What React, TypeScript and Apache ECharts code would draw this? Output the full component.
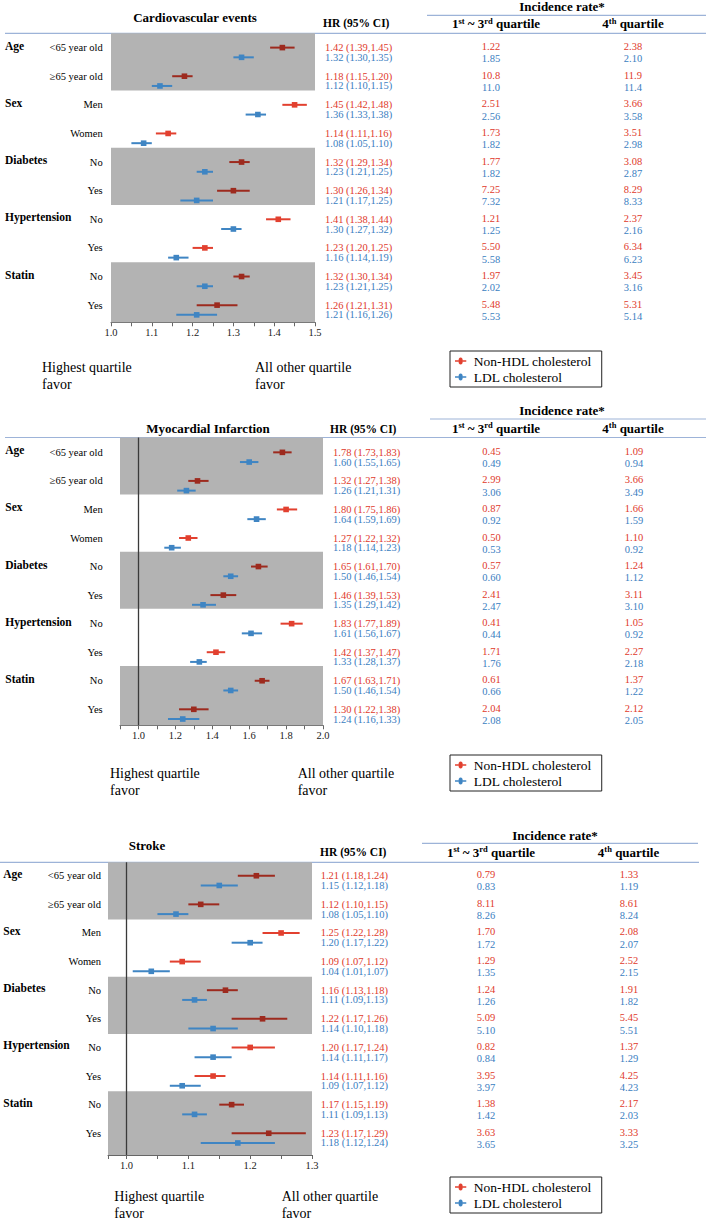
import React, { useEffect, useRef } from "react";
import * as echarts from "echarts";

const FONT = "'Liberation Serif', 'Times New Roman', serif";

// ---- shared row labels ----
const GROUPS = ["Age", "Sex", "Diabetes", "Hypertension", "Statin"];
const SUBGROUPS = ["<65 year old", "≥65 year old", "Men", "Women", "No", "Yes", "No", "Yes", "No", "Yes"];
const SHADED_GROUPS = [0, 2, 4];
const SERIES_NAMES = ["Non-HDL cholesterol", "LDL cholesterol"];

// ---- Cardiovascular events ----
const CVD_NONHDL_HR = [1.42, 1.18, 1.45, 1.14, 1.32, 1.30, 1.41, 1.23, 1.32, 1.26];
const CVD_NONHDL_LO = [1.39, 1.15, 1.42, 1.11, 1.29, 1.26, 1.38, 1.20, 1.30, 1.21];
const CVD_NONHDL_HI = [1.45, 1.20, 1.48, 1.16, 1.34, 1.34, 1.44, 1.25, 1.34, 1.31];
const CVD_LDL_HR = [1.32, 1.12, 1.36, 1.08, 1.23, 1.21, 1.30, 1.16, 1.23, 1.21];
const CVD_LDL_LO = [1.30, 1.10, 1.33, 1.05, 1.21, 1.17, 1.27, 1.14, 1.21, 1.16];
const CVD_LDL_HI = [1.35, 1.15, 1.38, 1.10, 1.25, 1.25, 1.32, 1.19, 1.25, 1.26];
const CVD_NONHDL_Q13 = ["1.22", "10.8", "2.51", "1.73", "1.77", "7.25", "1.21", "5.50", "1.97", "5.48"];
const CVD_NONHDL_Q4 = ["2.38", "11.9", "3.66", "3.51", "3.08", "8.29", "2.37", "6.34", "3.45", "5.31"];
const CVD_LDL_Q13 = ["1.85", "11.0", "2.56", "1.82", "1.82", "7.32", "1.25", "5.58", "2.02", "5.53"];
const CVD_LDL_Q4 = ["2.10", "11.4", "3.58", "2.98", "2.87", "8.33", "2.16", "6.23", "3.16", "5.14"];
const CVD_TICKS = [1.0, 1.05, 1.1, 1.15, 1.2, 1.25, 1.3, 1.35, 1.4, 1.45, 1.5];
const CVD_TICK_LABELS = [1.0, 1.1, 1.2, 1.3, 1.4, 1.5];

// ---- Myocardial Infarction ----
const MI_NONHDL_HR = [1.78, 1.32, 1.80, 1.27, 1.65, 1.46, 1.83, 1.42, 1.67, 1.30];
const MI_NONHDL_LO = [1.73, 1.27, 1.75, 1.22, 1.61, 1.39, 1.77, 1.37, 1.63, 1.22];
const MI_NONHDL_HI = [1.83, 1.38, 1.86, 1.32, 1.70, 1.53, 1.89, 1.47, 1.71, 1.38];
const MI_LDL_HR = [1.60, 1.26, 1.64, 1.18, 1.50, 1.35, 1.61, 1.33, 1.50, 1.24];
const MI_LDL_LO = [1.55, 1.21, 1.59, 1.14, 1.46, 1.29, 1.56, 1.28, 1.46, 1.16];
const MI_LDL_HI = [1.65, 1.31, 1.69, 1.23, 1.54, 1.42, 1.67, 1.37, 1.54, 1.33];
const MI_NONHDL_Q13 = ["0.45", "2.99", "0.87", "0.50", "0.57", "2.41", "0.41", "1.71", "0.61", "2.04"];
const MI_NONHDL_Q4 = ["1.09", "3.66", "1.66", "1.10", "1.24", "3.11", "1.05", "2.27", "1.37", "2.12"];
const MI_LDL_Q13 = ["0.49", "3.06", "0.92", "0.53", "0.60", "2.47", "0.44", "1.76", "0.66", "2.08"];
const MI_LDL_Q4 = ["0.94", "3.49", "1.59", "0.92", "1.12", "3.10", "0.92", "2.18", "1.22", "2.05"];
const MI_TICKS = [0.9, 1.0, 1.1, 1.2, 1.3, 1.4, 1.5, 1.6, 1.7, 1.8, 1.9, 2.0];
const MI_TICK_LABELS = [1.0, 1.2, 1.4, 1.6, 1.8, 2.0];

// ---- Stroke ----
const ST_NONHDL_HR = [1.21, 1.12, 1.25, 1.09, 1.16, 1.22, 1.20, 1.14, 1.17, 1.23];
const ST_NONHDL_LO = [1.18, 1.10, 1.22, 1.07, 1.13, 1.17, 1.17, 1.11, 1.15, 1.17];
const ST_NONHDL_HI = [1.24, 1.15, 1.28, 1.12, 1.18, 1.26, 1.24, 1.16, 1.19, 1.29];
const ST_LDL_HR = [1.15, 1.08, 1.20, 1.04, 1.11, 1.14, 1.14, 1.09, 1.11, 1.18];
const ST_LDL_LO = [1.12, 1.05, 1.17, 1.01, 1.09, 1.10, 1.11, 1.07, 1.09, 1.12];
const ST_LDL_HI = [1.18, 1.10, 1.22, 1.07, 1.13, 1.18, 1.17, 1.12, 1.13, 1.24];
const ST_NONHDL_Q13 = ["0.79", "8.11", "1.70", "1.29", "1.24", "5.09", "0.82", "3.95", "1.38", "3.63"];
const ST_NONHDL_Q4 = ["1.33", "8.61", "2.08", "2.52", "1.91", "5.45", "1.37", "4.25", "2.17", "3.33"];
const ST_LDL_Q13 = ["0.83", "8.26", "1.72", "1.35", "1.26", "5.10", "0.84", "3.97", "1.42", "3.65"];
const ST_LDL_Q4 = ["1.19", "8.24", "2.07", "2.15", "1.82", "5.51", "1.29", "4.23", "2.03", "3.25"];
const ST_TICKS = [0.97, 1.0, 1.05, 1.1, 1.15, 1.2, 1.25, 1.3];
const ST_TICK_LABELS = [1.0, 1.1, 1.2, 1.3];

// ---- styles ----
const RED = "#e2402f";
const RED_DARK = "#9d2a1e";
const BLUE = "#3f85c3";
const RED_TEXT = "#e0392b";
const BLUE_TEXT = "#3a7ebf";
const BAND = "#b3b3b3";
const RULE = "#9db3d8";
const BLUE_OFF = 0.34;
const LEGEND_ICON =
  "path://M0,3.8H6.03A3.2,3.2,0,1,1,11.97,3.8H18V6.2H11.97A3.2,3.2,0,1,1,6.03,6.2H0Z";

type SeriesCfg = { hr: number[]; lo: number[]; hi: number[]; q13: string[]; q4: string[] };
type PanelCfg = {
  title: string; titleX: number; titleY: number;
  hrHeadX: number; hrHeadY: number;
  incX: number; incY: number; ruleY: number; ruleX1: number; ruleX2: number;
  q13HeadX: number; q4HeadX: number; headY: number;
  topY: number; topX1: number; topX2: number;
  grid: { left: number; top: number; width: number; height: number };
  xMin: number; xMax: number; yMax: number; redOff: number;
  ticks: number[]; labels: number[]; refLine: boolean;
  groupX: number; subX: number; hrX: number; q13X: number; q4X: number;
  nonhdl: SeriesCfg; ldl: SeriesCfg;
  noteY: number; noteLeftX: number; noteRightX: number; legendTop: number;
};

const PANELS: PanelCfg[] = [
  {
    title: "Cardiovascular events", titleX: 195, titleY: 17,
    hrHeadX: 323, hrHeadY: 23,
    incX: 562, incY: 6, ruleY: 15.3, ruleX1: 427, ruleX2: 706,
    q13HeadX: 496, q4HeadX: 633, headY: 23.5,
    topY: 33.3, topX1: 5, topX2: 706,
    grid: { left: 111, top: 33.3, width: 204, height: 289 },
    xMin: 1.0, xMax: 1.5, yMax: 10.1, redOff: 0.5,
    ticks: CVD_TICKS, labels: CVD_TICK_LABELS, refLine: false,
    groupX: 5, subX: 102.7, hrX: 325, q13X: 491, q4X: 633,
    nonhdl: { hr: CVD_NONHDL_HR, lo: CVD_NONHDL_LO, hi: CVD_NONHDL_HI, q13: CVD_NONHDL_Q13, q4: CVD_NONHDL_Q4 },
    ldl: { hr: CVD_LDL_HR, lo: CVD_LDL_LO, hi: CVD_LDL_HI, q13: CVD_LDL_Q13, q4: CVD_LDL_Q4 },
    noteY: 367, noteLeftX: 42, noteRightX: 255, legendTop: 351,
  },
  {
    title: "Myocardial Infarction", titleX: 208, titleY: 428,
    hrHeadX: 330, hrHeadY: 429,
    incX: 562, incY: 410, ruleY: 419, ruleX1: 430, ruleX2: 706,
    q13HeadX: 496, q4HeadX: 633, headY: 428,
    topY: 437.5, topX1: 5, topX2: 706,
    grid: { left: 120, top: 437.5, width: 203, height: 287.8 },
    xMin: 0.9, xMax: 2.0, yMax: 10.08, redOff: 0.52,
    ticks: MI_TICKS, labels: MI_TICK_LABELS, refLine: true,
    groupX: 5.3, subX: 102.7, hrX: 333, q13X: 491.5, q4X: 634,
    nonhdl: { hr: MI_NONHDL_HR, lo: MI_NONHDL_LO, hi: MI_NONHDL_HI, q13: MI_NONHDL_Q13, q4: MI_NONHDL_Q4 },
    ldl: { hr: MI_LDL_HR, lo: MI_LDL_LO, hi: MI_LDL_HI, q13: MI_LDL_Q13, q4: MI_LDL_Q4 },
    noteY: 773.3, noteLeftX: 110, noteRightX: 297.7, legendTop: 755,
  },
  {
    title: "Stroke", titleX: 147, titleY: 845,
    hrHeadX: 320, hrHeadY: 851.7,
    incX: 555, incY: 835, ruleY: 843.3, ruleX1: 422, ruleX2: 698,
    q13HeadX: 491, q4HeadX: 628.5, headY: 852,
    topY: 862.3, topX1: 0, topX2: 699,
    grid: { left: 108, top: 862.3, width: 204, height: 292.7 },
    xMin: 0.97, xMax: 1.3, yMax: 10.23, redOff: 0.47,
    ticks: ST_TICKS, labels: ST_TICK_LABELS, refLine: true,
    groupX: 3.3, subX: 101, hrX: 320.7, q13X: 486, q4X: 629,
    nonhdl: { hr: ST_NONHDL_HR, lo: ST_NONHDL_LO, hi: ST_NONHDL_HI, q13: ST_NONHDL_Q13, q4: ST_NONHDL_Q4 },
    ldl: { hr: ST_LDL_HR, lo: ST_LDL_LO, hi: ST_LDL_HI, q13: ST_LDL_Q13, q4: ST_LDL_Q4 },
    noteY: 1196.7, noteLeftX: 114.3, noteRightX: 281.7, legendTop: 1177,
  },
];

function txt(x: number, y: number, text: string, fill: string, align: string, size = 10.5, weight = "normal", vAlign = "middle"): any {
  return {
    type: "text", x, y, silent: true,
    style: {
      text, fill, fontSize: size, fontFamily: FONT, fontWeight: weight,
      align, textAlign: align, verticalAlign: vAlign, textVerticalAlign: vAlign,
    },
  };
}

function makeRender(p: PanelCfg, s: SeriesCfg, isRed: boolean) {
  return (params: any, api: any) => {
    const i = params.dataIndex;
    const row = api.value(0);
    const hr = api.value(1);
    const lo = api.value(2);
    const hi = api.value(3);
    const yv = row + p.redOff + (isRed ? 0 : BLUE_OFF);
    const pc = api.coord([hr, yv]);
    const pl = api.coord([lo, yv]);
    const ph = api.coord([hi, yv]);
    const y = pc[1];
    const shaded = SHADED_GROUPS.indexOf(Math.floor(row / 2)) >= 0;
    const mk = isRed ? (shaded ? RED_DARK : RED) : BLUE;
    const tc = isRed ? RED_TEXT : BLUE_TEXT;
    const children: any[] = [
      { type: "line", shape: { x1: pl[0], y1: y, x2: ph[0], y2: y }, style: { stroke: mk, lineWidth: 2 } },
      { type: "rect", shape: { x: pc[0] - 2.8, y: y - 2.8, width: 5.6, height: 5.6 }, style: { fill: mk } },
      txt(p.hrX, y, `${hr.toFixed(2)} (${lo.toFixed(2)},${hi.toFixed(2)})`, tc, "left"),
      txt(p.q13X, y + (isRed ? -1 : 1.5), s.q13[i], tc, "center"),
      txt(p.q4X, y + (isRed ? -1 : 1.5), s.q4[i], tc, "center"),
    ];
    if (isRed) {
      children.push(txt(p.subX, y, SUBGROUPS[row], "#000", "right"));
      if (row % 2 === 0) children.push(txt(p.groupX, y - 2, GROUPS[row / 2], "#000", "left", 11.5, "bold"));
    }
    return { type: "group", children };
  };
}

function quartHead(x: number, y: number, parts: [string, boolean][]): any {
  const text = parts.map(([t, sup]) => `{${sup ? "s" : "n"}|${t}}`).join("");
  return {
    type: "text", x, y, silent: true,
    style: {
      text,
      align: "center", textAlign: "center", verticalAlign: "middle", textVerticalAlign: "middle",
      rich: {
        n: { fontSize: 13, fontWeight: "bold", fontFamily: FONT, fill: "#000", lineHeight: 15 },
        s: { fontSize: 8.5, fontWeight: "bold", fontFamily: FONT, fill: "#000", verticalAlign: "top", lineHeight: 9 },
      },
    },
  };
}

function buildOption(): any {
  const grid: any[] = [];
  const xAxis: any[] = [];
  const yAxis: any[] = [];
  const series: any[] = [];
  const graphic: any[] = [];
  const legend: any[] = [];

  PANELS.forEach((p, k) => {
    grid.push({ ...p.grid, containLabel: false });
    xAxis.push({
      gridIndex: k, type: "value", min: p.xMin, max: p.xMax, position: "bottom",
      axisLine: { show: true, onZero: false, lineStyle: { color: "#666", width: 1 } },
      axisTick: { show: true, length: 4, customValues: p.ticks, lineStyle: { color: "#666" } },
      axisLabel: {
        show: true, customValues: p.labels, formatter: (v: number) => v.toFixed(1),
        fontFamily: FONT, fontSize: 10.5, color: "#222", margin: 5,
      },
      splitLine: { show: false },
    });
    yAxis.push({ gridIndex: k, type: "value", min: 0, max: p.yMax, inverse: true, show: false });

    const bands = SHADED_GROUPS.map((g) => [
      { yAxis: g * 2 },
      { yAxis: g === 4 ? p.yMax : g * 2 + 2 },
    ]);

    [true, false].forEach((isRed) => {
      const s = isRed ? p.nonhdl : p.ldl;
      const ser: any = {
        type: "custom",
        name: isRed ? SERIES_NAMES[0] : SERIES_NAMES[1],
        xAxisIndex: k, yAxisIndex: k,
        itemStyle: { color: isRed ? RED : BLUE },
        encode: { x: [1, 2, 3], y: 0 },
        data: s.hr.map((v, i) => [i, v, s.lo[i], s.hi[i]]),
        renderItem: makeRender(p, s, isRed),
        clip: false,
        z: 3,
      };
      if (isRed) {
        ser.markArea = {
          silent: true,
          itemStyle: { color: BAND, opacity: 1 },
          label: { show: false },
          data: bands,
        };
      } else if (p.refLine) {
        ser.markLine = {
          silent: true, symbol: ["none", "none"], label: { show: false },
          lineStyle: { color: "#3a3a3a", width: 1.3, type: "solid" },
          data: [{ xAxis: 1 }],
        };
      }
      series.push(ser);
    });

    legend.push({
      orient: "vertical", left: 450, top: p.legendTop, selectedMode: false,
      data: [
        { name: SERIES_NAMES[0], icon: LEGEND_ICON, itemStyle: { color: RED } },
        { name: SERIES_NAMES[1], icon: LEGEND_ICON, itemStyle: { color: BLUE } },
      ],
      itemWidth: 16, itemHeight: 7, itemGap: 2,
      textStyle: { fontFamily: FONT, fontSize: 13.5, color: "#000", padding: [0, 0, 0, 0] },
      borderColor: "#222", borderWidth: 1, borderRadius: 0,
      padding: [3, 10, 3, 5],
    });

    graphic.push(txt(p.titleX, p.titleY, p.title, "#000", "center", 13, "bold"));
    graphic.push(txt(p.hrHeadX, p.hrHeadY, "HR (95% CI)", "#000", "left", 11.5, "bold"));
    graphic.push(txt(p.incX, p.incY, "Incidence rate*", "#000", "center", 13, "bold"));
    graphic.push(quartHead(p.q13HeadX, p.headY, [["1", false], ["st", true], [" ~ 3", false], ["rd", true], [" quartile", false]]));
    graphic.push(quartHead(p.q4HeadX, p.headY, [["4", false], ["th", true], [" quartile", false]]));
    graphic.push({ type: "line", silent: true, shape: { x1: p.ruleX1, y1: p.ruleY, x2: p.ruleX2, y2: p.ruleY }, style: { stroke: RULE, lineWidth: 1.2 } });
    graphic.push({ type: "line", silent: true, shape: { x1: p.topX1, y1: p.topY, x2: p.topX2, y2: p.topY }, style: { stroke: RULE, lineWidth: 1.2 } });
    const noteStyle = (x: number, t: string) => ({
      type: "text", x, y: p.noteY - 8.5, silent: true,
      style: { text: t, fill: "#000", fontSize: 14, fontFamily: FONT, lineHeight: 17, align: "left", textAlign: "left", verticalAlign: "top", textVerticalAlign: "top" },
    });
    graphic.push(noteStyle(p.noteLeftX, "Highest quartile\nfavor"));
    graphic.push(noteStyle(p.noteRightX, "All other quartile\nfavor"));
  });

  return {
    animation: false,
    backgroundColor: "#fff",
    grid, xAxis, yAxis, series, legend,
    graphic: { elements: graphic },
  };
}

export default function App() {
  const ref = useRef<HTMLDivElement>(null);
  useEffect(() => {
    if (!ref.current) return;
    const chart = echarts.init(ref.current, null, { renderer: "svg" });
    chart.setOption(buildOption());
    return () => chart.dispose();
  }, []);
  return (
    <div
      ref={ref}
      style={{ position: "absolute", left: 0, top: 0, width: 706, height: 1220, background: "#fff" }}
    />
  );
}
